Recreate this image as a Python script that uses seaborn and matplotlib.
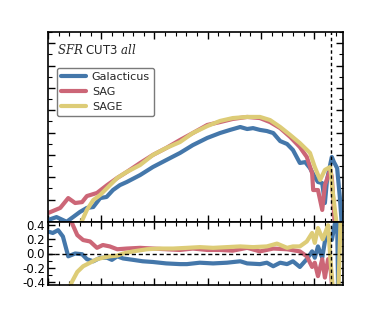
import matplotlib
matplotlib.use("Agg")
import matplotlib.pyplot as plt
from matplotlib.ticker import MultipleLocator, NullFormatter
import numpy as np
import pandas as pd
import seaborn as sns

# ---------------- data ----------------
models = ["Galacticus", "SAG", "SAGE"]
colors = ["#4477AA", "#CC6677", "#DDCC77"]

# top panel: log SFR function
x_gal = [0.00, 0.16, 0.35, 0.47, 0.60, 0.73, 0.85, 0.98, 1.10, 1.22, 1.35, 1.48, 1.73, 1.97,
         2.22, 2.48, 2.72, 2.99, 3.23, 3.42, 3.61, 3.74, 3.85, 3.98, 4.11, 4.23, 4.36, 4.49,
         4.60, 4.73, 4.83, 4.92, 5.01, 5.07, 5.15, 5.20, 5.24, 5.33, 5.37, 5.43, 5.48, 5.52]
y_gal = [-8.41, -8.28, -8.49, -8.28, -8.05, -7.87, -7.83, -7.43, -7.38, -7.07, -6.85, -6.71,
         -6.40, -6.04, -5.73, -5.41, -5.06, -4.74, -4.52, -4.38, -4.25, -4.34, -4.30, -4.38,
         -4.43, -4.52, -4.88, -5.01, -5.28, -5.86, -5.82, -6.09, -6.49, -6.71, -6.76, -7.65,
         -6.62, -5.59, -5.82, -6.09, -7.38, -8.70]

x_sag = [0.00, 0.23, 0.38, 0.51, 0.64, 0.73, 0.92, 1.11, 1.30, 1.48, 1.73, 1.97, 2.22, 2.48,
         2.72, 2.99, 3.23, 3.47, 3.74, 3.98, 4.17, 4.36, 4.55, 4.73, 4.86, 4.96, 4.98, 5.07,
         5.15, 5.20, 5.30, 5.33, 5.39]
y_sag = [-8.10, -7.87, -7.43, -7.65, -7.61, -7.34, -7.20, -6.85, -6.53, -6.26, -5.86, -5.50,
         -5.19, -4.83, -4.52, -4.16, -4.03, -3.89, -3.80, -3.85, -4.03, -4.30, -4.70, -5.15,
         -5.59, -6.31, -7.07, -7.07, -7.96, -6.85, -6.17, -6.49, -8.80]

x_sage = [0.56, 0.73, 0.85, 0.98, 1.11, 1.30, 1.48, 1.73, 1.97, 2.22, 2.48, 2.72, 2.99, 3.23,
          3.47, 3.74, 3.98, 4.17, 4.36, 4.55, 4.73, 4.92, 5.01, 5.11, 5.20, 5.30, 5.35, 5.43]
y_sage = [-8.86, -7.96, -7.52, -7.29, -6.98, -6.53, -6.26, -5.95, -5.50, -5.19, -4.92, -4.52,
          -4.21, -3.98, -3.85, -3.80, -3.80, -3.94, -4.25, -4.61, -4.97, -5.41, -6.04, -6.62,
          -6.17, -6.04, -7.20, -8.80]

# bottom panel: residuals
rx_gal = [0.00, 0.09, 0.19, 0.28, 0.38, 0.51, 0.64, 0.73, 0.85, 0.98, 1.11, 1.20, 1.30, 1.41,
          1.60, 1.78, 1.97, 2.22, 2.48, 2.61, 2.85, 3.10, 3.36, 3.61, 3.74, 3.98, 4.11, 4.23,
          4.36, 4.49, 4.60, 4.73, 4.86, 4.96, 5.01, 5.07, 5.15, 5.20, 5.26, 5.33, 5.39, 5.43, 5.45]
ry_gal = [0.31, 0.29, 0.33, 0.24, -0.04, 0.00, -0.01, -0.08, -0.11, -0.06, -0.06, -0.09, -0.04,
          -0.07, -0.09, -0.11, -0.12, -0.14, -0.15, -0.15, -0.13, -0.14, -0.13, -0.11, -0.14,
          -0.15, -0.13, -0.18, -0.13, -0.15, -0.11, -0.19, -0.08, 0.03, -0.06, 0.10, -0.06, 0.17,
          0.26, 0.19, 0.43, 0.47, -0.60]

rx_sag = [0.28, 0.38, 0.45, 0.55, 0.66, 0.79, 0.92, 1.03, 1.16, 1.30, 1.48, 1.73, 1.97, 2.22,
          2.48, 2.72, 2.99, 3.23, 3.47, 3.74, 3.98, 4.23, 4.49, 4.73, 4.86, 4.96, 5.01, 5.07,
          5.15, 5.20, 5.26, 5.30, 5.35]
ry_sag = [0.70, 0.55, 0.43, 0.26, 0.19, 0.17, 0.08, 0.12, 0.10, 0.06, 0.07, 0.08, 0.07, 0.06,
          0.05, 0.07, 0.05, 0.05, 0.04, 0.08, 0.03, 0.07, 0.06, 0.03, -0.04, -0.19, -0.13, -0.32,
          -0.08, -0.34, -0.08, -0.15, -0.60]

rx_sage = [0.34, 0.45, 0.55, 0.66, 0.79, 0.92, 1.03, 1.16, 1.30, 1.41, 1.60, 1.86, 2.10, 2.35,
           2.61, 2.85, 3.10, 3.36, 3.61, 3.85, 4.11, 4.30, 4.49, 4.60, 4.73, 4.86, 4.96, 5.01,
           5.07, 5.16, 5.26, 5.30, 5.36, 5.45, 5.50]
ry_sage = [-0.60, -0.40, -0.26, -0.18, -0.13, -0.08, -0.06, -0.04, -0.03, 0.00, 0.03, 0.06, 0.07,
           0.07, 0.08, 0.09, 0.08, 0.09, 0.10, 0.09, 0.10, 0.14, 0.08, 0.10, 0.10, 0.17, 0.29,
           0.15, 0.36, 0.20, 0.40, -0.04, -0.60, -0.60, 0.60]

x_cut = 5.31
title_text = r"$SFR$ CUT3 $all$"
res_ticks = [-0.4, -0.2, 0.0, 0.2, 0.4]

# ---------------- frames ----------------
top = pd.concat([
    pd.DataFrame({"x": x_gal, "y": y_gal, "model": "Galacticus"}),
    pd.DataFrame({"x": x_sag, "y": y_sag, "model": "SAG"}),
    pd.DataFrame({"x": x_sage, "y": y_sage, "model": "SAGE"}),
], ignore_index=True)
bot = pd.concat([
    pd.DataFrame({"x": rx_gal, "y": ry_gal, "model": "Galacticus"}),
    pd.DataFrame({"x": rx_sag, "y": ry_sag, "model": "SAG"}),
    pd.DataFrame({"x": rx_sage, "y": ry_sage, "model": "SAGE"}),
], ignore_index=True)

sns.set_theme(style="ticks")
plt.rcParams["font.family"] = ["DejaVu Sans"]
plt.rcParams["mathtext.fontset"] = "dejavuserif"
plt.rcParams["axes.unicode_minus"] = False

palette = dict(zip(models, colors))

fig = plt.figure(figsize=(3.82, 3.18), dpi=100)
W, H = 382, 318
ax1 = fig.add_axes([48 / W, 1 - 222 / H, 295 / W, 190 / H])
ax2 = fig.add_axes([48 / W, 1 - 285 / H, 295 / W, 63 / H], sharex=ax1)

sns.lineplot(data=top, x="x", y="y", hue="model", palette=palette, hue_order=models,
             sort=False, estimator=None, lw=3, ax=ax1)
sns.lineplot(data=bot, x="x", y="y", hue="model", palette=palette, hue_order=models,
             sort=False, estimator=None, lw=3, ax=ax2, legend=False)

ax1.set_xlim(0, 5.54)
ax1.set_ylim(-8.5, 0)
ax2.set_ylim(-0.445, 0.445)

ax1.axvline(x_cut, color="black", lw=1, ls=(0, (2.5, 2)))
ax2.axvline(x_cut, color="black", lw=1, ls=(0, (2.5, 2)))
ax2.axhline(0, color="black", lw=1, ls=(0, (3, 2)))

for ax in (ax1, ax2):
    ax.set_xlabel("")
    ax.set_ylabel("")
    ax.xaxis.set_major_locator(MultipleLocator(1))
    ax.xaxis.set_minor_locator(MultipleLocator(0.2))
    ax.tick_params(which="both", direction="in", top=True, right=True, colors="black",
                   labelsize=8.5, pad=2)
    ax.tick_params(which="major", length=5, width=1)
    ax.tick_params(which="minor", length=3, width=0.8)
    for s in ax.spines.values():
        s.set_color("black")
        s.set_linewidth(1.2)
    ax.xaxis.set_major_formatter(NullFormatter())

ax1.yaxis.set_major_locator(MultipleLocator(1, offset=0.5))
ax1.yaxis.set_minor_locator(MultipleLocator(0.5))
ax1.yaxis.set_major_formatter(NullFormatter())
ax2.set_yticks(res_ticks)
ax2.set_yticklabels([f"{v:.1f}" for v in res_ticks])
ax2.yaxis.set_minor_locator(MultipleLocator(0.1))

ax1.text(0.03, 0.905, title_text, transform=ax1.transAxes, fontsize=8.5,
         ha="left", va="center")

leg = ax1.legend(loc="upper left", bbox_to_anchor=(0.03, 0.81), borderaxespad=0,
                 fontsize=8, handlelength=2.3, handletextpad=0.5, labelspacing=0.45,
                 frameon=True, fancybox=True, edgecolor="0.35", borderpad=0.35)
leg.get_frame().set_linewidth(1.0)
for line in leg.get_lines():
    line.set_linewidth(3)

fig.savefig("out.png", dpi=100, facecolor="white")
